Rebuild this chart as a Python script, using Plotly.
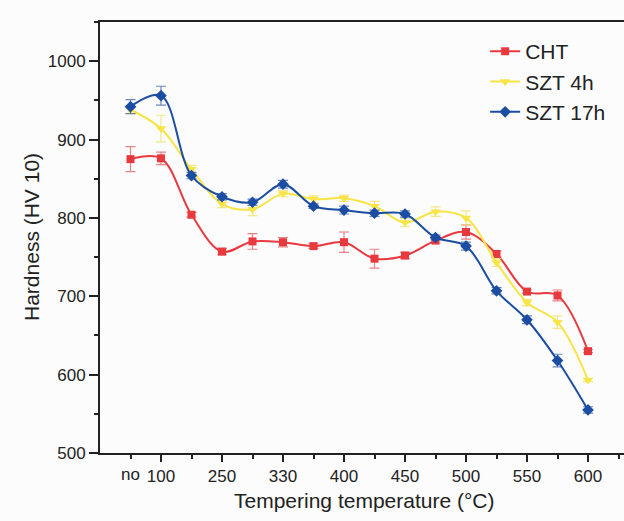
import plotly.graph_objects as go

# category positions (tempering steps) and tick labels
positions = list(range(16))
tick_positions = [1, 3, 5, 7, 9, 11, 13, 15]
tick_labels = ["100", "250", "330", "400", "450", "500", "550", "600"]
first_label = "no"
minor_positions = [0, 2, 4, 6, 8, 10, 12, 14, 16]

cht = [875, 876, 804, 757, 770, 769, 764, 769, 748, 752, 771, 782, 754, 706, 701, 630]
cht_err = [16, 8, 3, 4, 10, 6, 3, 13, 12, 4, 3, 9, 4, 2, 7, 2]

szt4 = [938, 914, 862, 818, 811, 831, 824, 825, 815, 794, 808, 800, 743, 692, 667, 593]
szt4_err = [5, 17, 5, 5, 8, 4, 4, 4, 6, 5, 6, 9, 5, 4, 8, 2]

szt17 = [942, 956, 854, 827, 820, 843, 815, 810, 806, 805, 775, 764, 707, 670, 618, 555]
szt17_err = [9, 12, 4, 4, 4, 5, 3, 5, 4, 4, 3, 5, 4, 5, 8, 4]

FONT = "Arial, Liberation Sans, sans-serif"
TXT = "#222"

series = [
    ("CHT", cht, cht_err, "#E8393F", "rgba(225,90,95,0.75)", "square", 8),
    ("SZT 4h", szt4, szt4_err, "#F7E445", "rgba(240,225,110,0.8)", "triangle-down", 9),
    ("SZT 17h", szt17, szt17_err, "#1B4EA2", "rgba(60,95,170,0.75)", "diamond", 9),
]

fig = go.Figure()
for name, vals, errs, col, ecol, sym, sz in series:
    fig.add_trace(go.Scatter(
        x=positions, y=vals, name=name, mode="lines+markers",
        line=dict(color=col, width=2, shape="spline", smoothing=1.0),
        marker=dict(symbol=sym, size=sz, color=col),
        error_y=dict(type="data", array=errs, visible=True, color=ecol,
                     thickness=1.2, width=5),
    ))

W, H, L, R, T, B = 624, 521, 100, 0, 22, 68
pw, ph = W - L - R, H - T - B

fig.update_layout(
    width=W, height=H,
    margin=dict(l=L, r=R, t=T, b=B, autoexpand=False),
    paper_bgcolor="#FCFCFC", plot_bgcolor="#FCFCFC",
    font=dict(family=FONT, color=TXT),
    showlegend=True,
    legend=dict(x=0.735, y=0.979, xanchor="left", yanchor="top",
                bgcolor="rgba(0,0,0,0)", font=dict(size=21, family=FONT, color=TXT),
                tracegroupgap=0),
    annotations=[
        dict(x=0, y=0, xref="x", yref="paper", text=first_label,
             showarrow=False, yanchor="top", yshift=-10,
             font=dict(size=17, family=FONT, color=TXT)),
        dict(x=(364 - L) / pw, y=(H - 500 - B) / ph, xref="paper", yref="paper",
             text="Tempering temperature (°C)",
             showarrow=False, xanchor="center", yanchor="middle",
             font=dict(size=21, family=FONT, color=TXT)),
        dict(x=(31 - L) / pw, y=(H - 237 - B) / ph, xref="paper", yref="paper",
             text="Hardness (HV 10)",
             showarrow=False, xanchor="center", yanchor="middle", textangle=-90,
             font=dict(size=21, family=FONT, color=TXT)),
    ],
)

fig.update_xaxes(
    range=[-1, 16.18], tickmode="array", tickvals=tick_positions, ticktext=tick_labels,
    ticks="outside", ticklen=7, tickwidth=1.5, tickcolor=TXT,
    showline=True, linecolor=TXT, linewidth=2, mirror=True,
    showgrid=False, zeroline=False, automargin=False,
    tickfont=dict(size=17, family=FONT, color=TXT),
    minor=dict(tickmode="array", tickvals=minor_positions, ticks="outside",
               ticklen=4, tickwidth=1.5, tickcolor=TXT, showgrid=False),
)
fig.update_yaxes(
    range=[500, 1050], tickmode="array", tickvals=[500, 600, 700, 800, 900, 1000],
    ticks="outside", ticklen=9, tickwidth=1.5, tickcolor=TXT,
    showline=True, linecolor=TXT, linewidth=2, mirror=False,
    showgrid=False, zeroline=False, automargin=False,
    tickfont=dict(size=17, family=FONT, color=TXT),
    minor=dict(tickmode="array", tickvals=[550, 650, 750, 850, 950, 1050], ticks="outside",
               ticklen=4, tickwidth=1.5, tickcolor=TXT, showgrid=False),
)

fig.write_html("out.html", config={"displayModeBar": False},
               post_script="document.body.style.margin='0';")
